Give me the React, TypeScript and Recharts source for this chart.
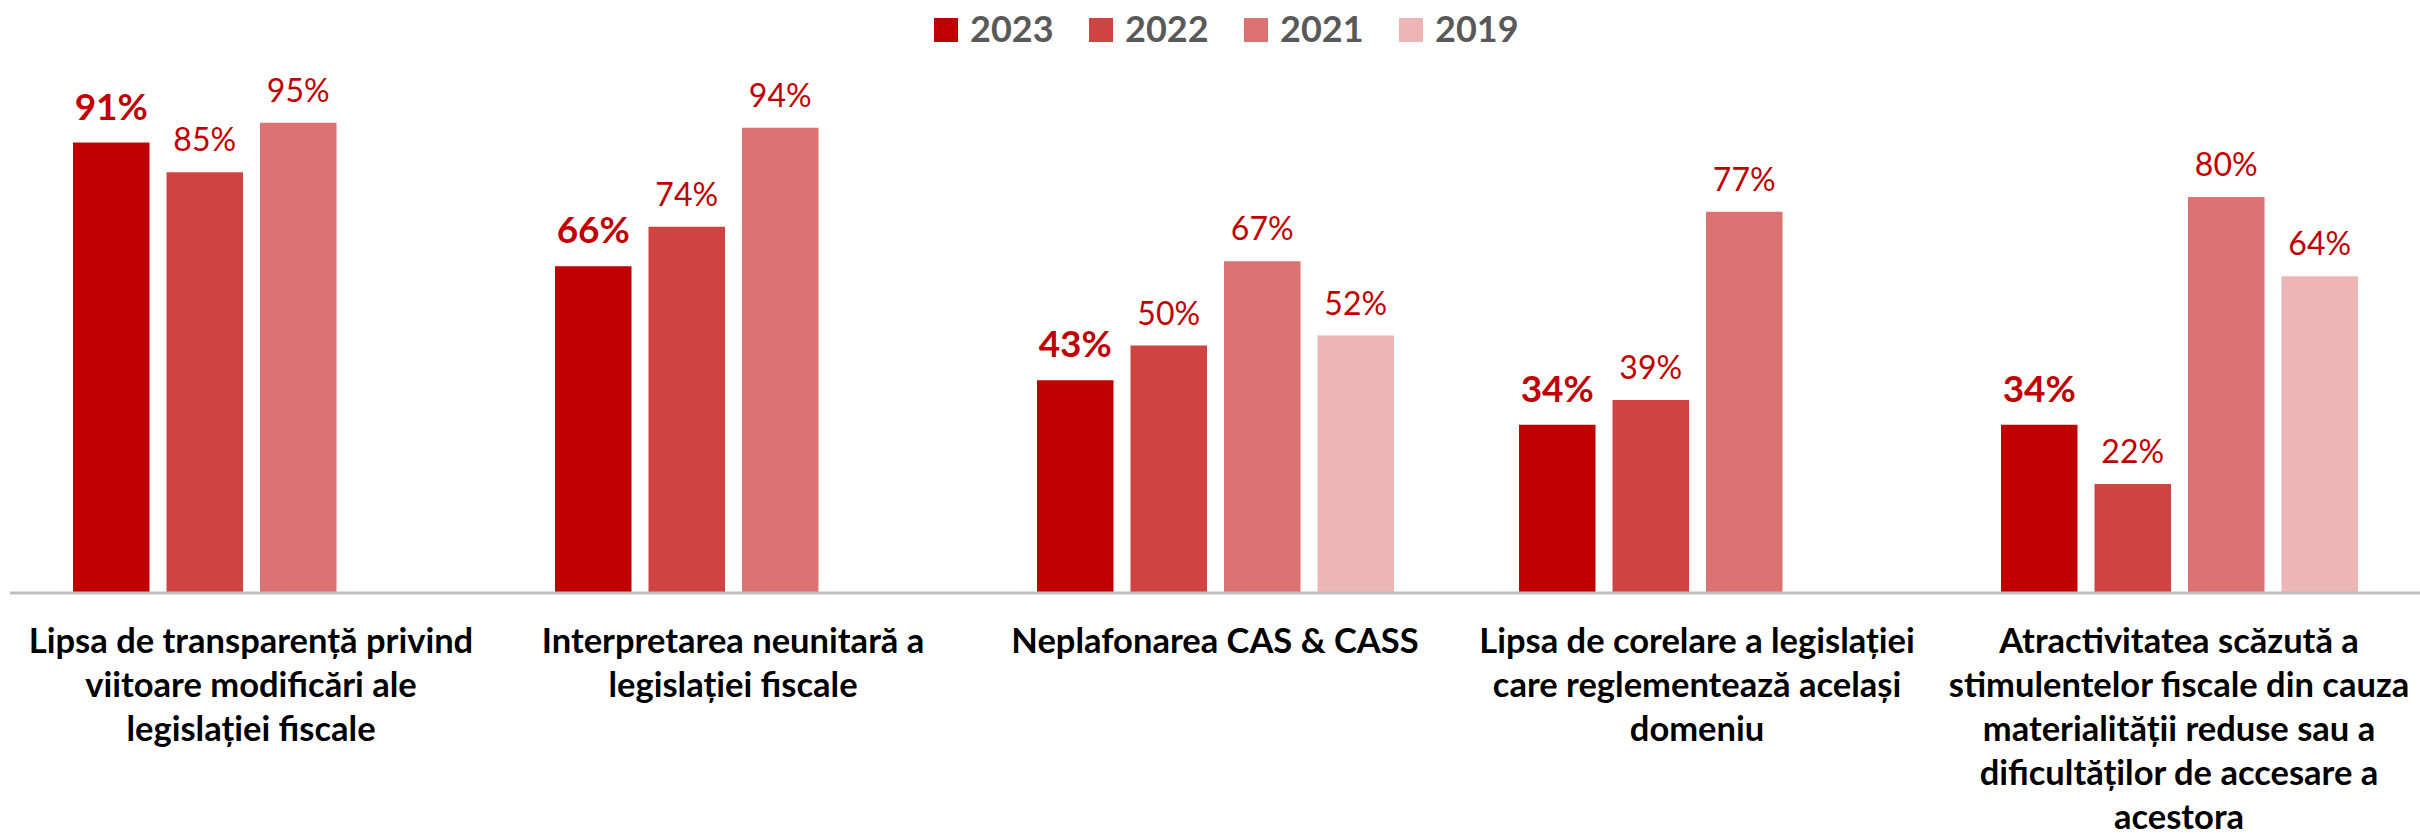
import { BarChart, Bar, XAxis, YAxis, Legend, LabelList } from 'recharts';

const categories = [
  'Lipsa de transparență privind\nviitoare modificări ale\nlegislației fiscale',
  'Interpretarea neunitară a\nlegislației fiscale',
  'Neplafonarea CAS & CASS',
  'Lipsa de corelare a legislației\ncare reglementează același\ndomeniu',
  'Atractivitatea scăzută a\nstimulentelor fiscale din cauza\nmaterialității reduse sau a\ndificultăților de accesare a\nacestora',
];

const values2023 = [91, 66, 43, 34, 34];
const values2022 = [85, 74, 50, 39, 22];
const values2021 = [95, 94, 67, 77, 80];
const values2019 = [null, null, 52, null, 64];

const SERIES = [
  { key: 'y2023', name: '2023', color: '#C00000', bold: true },
  { key: 'y2022', name: '2022', color: '#D04343', bold: false },
  { key: 'y2021', name: '2021', color: '#DC7373', bold: false },
  { key: 'y2019', name: '2019', color: '#EDB5B5', bold: false },
];

const data = categories.map((name, i) => ({
  name,
  y2023: values2023[i],
  y2022: values2022[i],
  y2021: values2021[i],
  y2019: values2019[i],
}));

const FONT = 'Lato, "Open Sans", sans-serif';

const CategoryTick = ({ x, y, payload }: any) => {
  const lines = String(payload.value).split('\n');
  return (
    <g>
      {lines.map((line, i) => (
        <text
          key={i}
          x={x}
          y={y + 60 + i * 44}
          textAnchor="middle"
          fontFamily={FONT}
          fontWeight={700}
          fontSize={34.5}
          fill="#000000"
        >
          {line}
        </text>
      ))}
    </g>
  );
};

const LegendContent = () => (
  <svg width={2420} height={60}>
    {SERIES.map((s, i) => (
      <g key={s.key}>
        <rect x={934 + i * 155} y={18} width={24} height={24} fill={s.color} />
        <text
          x={970 + i * 155}
          y={42}
          fontFamily={FONT}
          fontWeight={700}
          fontSize={36}
          fill="#595959"
        >
          {s.name}
        </text>
      </g>
    ))}
  </svg>
);

const pct = (v: any) => (v == null ? '' : `${v}%`);

export default function App() {
  return (
    <div style={{ position: 'absolute', left: 0, top: 0, background: '#fff' }}>
      <BarChart
        width={2420}
        height={838}
        data={data}
        margin={{ top: 98, right: 0, left: 10, bottom: 0 }}
        barSize={76.5}
        barGap={17}
      >
        <XAxis
          dataKey="name"
          axisLine={{ stroke: '#BFBFBF', strokeWidth: 3 }}
          tickLine={false}
          tickSize={0}
          tickMargin={0}
          height={245}
          interval={0}
          tick={<CategoryTick />}
        />
        <YAxis hide domain={[0, 100]} />
        <Legend
          verticalAlign="middle"
          align="center"
          layout="horizontal"
          wrapperStyle={{ top: 0, left: 0, width: 2420, height: 60 }}
          content={<LegendContent />}
        />
        {SERIES.map((s) => (
          <Bar key={s.key} dataKey={s.key} name={s.name} fill={s.color} isAnimationActive={false}>
            <LabelList
              dataKey={s.key}
              position="top"
              offset={s.bold ? 23 : 21}
              formatter={pct}
              fill="#C00000"
              fontFamily={FONT}
              fontSize={s.bold ? 37 : 32}
              fontWeight={s.bold ? 700 : 400}
            />
          </Bar>
        ))}
      </BarChart>
    </div>
  );
}
